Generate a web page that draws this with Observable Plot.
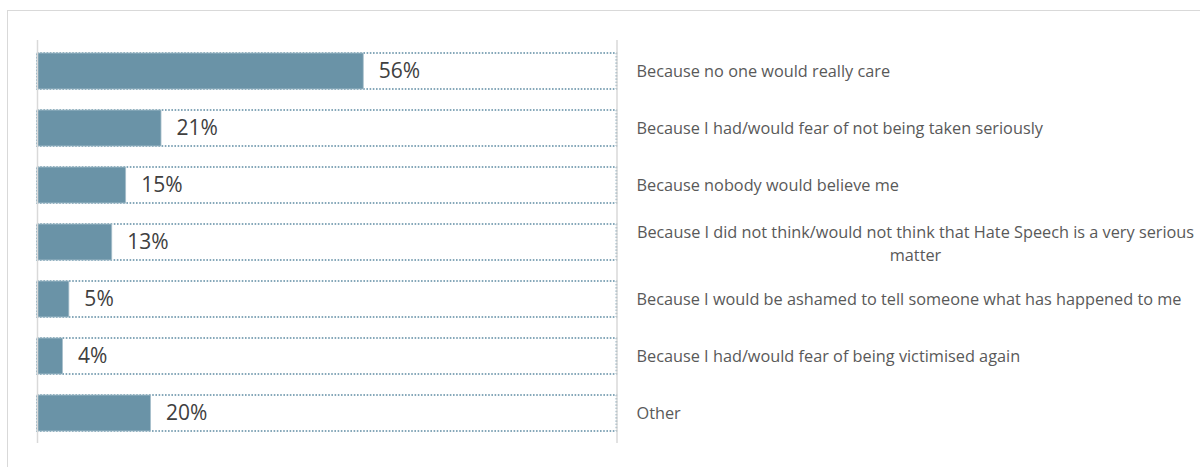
<!DOCTYPE html>
<html>
<head>
<meta charset="utf-8">
<script src="https://cdn.jsdelivr.net/npm/d3@7"></script>
<script src="https://cdn.jsdelivr.net/npm/@observablehq/plot@0.6"></script>
<style>
  html, body { margin: 0; padding: 0; background: #fff; overflow: hidden; }
  #wrap { position: relative; width: 1200px; height: 467px; }
  #frame { position: absolute; left: 6.5px; top: 10px; width: 1300px; height: 600px;
           border-left: 1.5px solid #d9d9d9; border-top: 1.5px solid #d9d9d9; }
  #chart { position: absolute; left: 0; top: 0; }
</style>
</head>
<body>
<div id="wrap"><div id="frame"></div><div id="chart"></div></div>
<script>
const categories = [
  "Because no one would really care",
  "Because I had/would fear of not being taken seriously",
  "Because nobody would believe me",
  "Because I did not think/would not think that Hate Speech is a very serious\nmatter",
  "Because I would be ashamed to tell someone what has happened to me",
  "Because I had/would fear of being victimised again",
  "Other"
];
const values = [56.3, 21.4, 15.3, 12.9, 5.5, 4.4, 19.6];
const valueLabels = ["56%", "21%", "15%", "13%", "5%", "4%", "20%"];
const fullScale = 100;

const rows = categories.map((c, i) => ({
  category: c, value: values[i], label: valueLabels[i],
  wrapped: c.includes("\n")
}));

const barColor = "#6a93a7";

const chart = Plot.plot({
  width: 1200,
  height: 467,
  marginTop: 40,
  marginBottom: 24,
  marginLeft: 37,
  marginRight: 583.5,
  style: { background: "transparent", overflow: "visible" },
  x: { domain: [0, 100], axis: null },
  y: { domain: categories, axis: null, paddingInner: 0.375, paddingOuter: 0.1875 },
  marks: [
    Plot.barX(rows, {
      x1: 0, x2: () => fullScale, y: "category",
      fill: "none", stroke: "#5f8ca3", strokeWidth: 1.6, strokeDasharray: "1.6,1.6"
    }),
    Plot.barX(rows, {
      x1: 0, x2: "value", y: "category",
      fill: barColor, stroke: "#a9c0cc", strokeWidth: 0.8
    }),
    Plot.ruleX([0, fullScale], { stroke: "#d9d9d9", strokeWidth: 1.5 }),
    Plot.text(rows, {
      x: "value", y: "category", text: "label",
      dx: 15, textAnchor: "start",
      fontSize: 21, fill: "#404040", fontFamily: "Open Sans"
    }),
    Plot.text(rows.filter(d => !d.wrapped), {
      x: () => fullScale, y: "category", text: "category",
      dx: 19.5, textAnchor: "start",
      fontSize: 16.3, fill: "#595959", fontFamily: "Open Sans"
    }),
    Plot.text(rows.filter(d => d.wrapped), {
      x: () => fullScale, y: "category", text: "category",
      dx: 298.5, textAnchor: "middle", lineHeight: 1.4,
      fontSize: 16.3, fill: "#595959", fontFamily: "Open Sans"
    })
  ]
});
document.getElementById("chart").appendChild(chart);
</script>
</body>
</html>
